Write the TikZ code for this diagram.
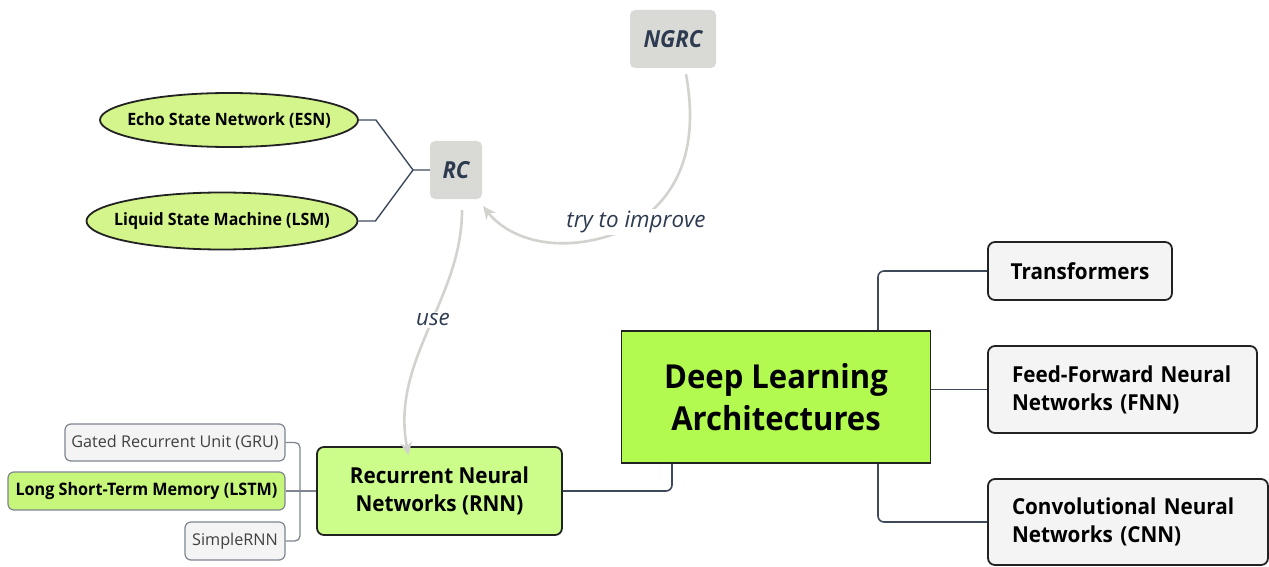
\documentclass[tikz,border=0pt]{standalone}
\usepackage{fontspec}
\setmainfont{Open Sans}[BoldFeatures={FakeStretch=0.94},BoldItalicFeatures={FakeStretch=0.94}]
\usetikzlibrary{arrows.meta,shapes.geometric}
\definecolor{slate}{HTML}{3E4A5C}
\definecolor{textslate}{HTML}{2D3A4F}
\definecolor{graybox}{HTML}{D9D9D5}
\definecolor{relgray}{HTML}{D2D2CE}
\definecolor{lightfill}{HTML}{F4F4F4}
\definecolor{boxline}{HTML}{222222}
\definecolor{dlafill}{HTML}{B3FA50}
\definecolor{rnnfill}{HTML}{CCFC8A}
\definecolor{ellfill}{HTML}{D4F58C}
\definecolor{lstmfill}{HTML}{C6F77A}
\definecolor{childline}{HTML}{7E858F}
\begin{document}
\begin{tikzpicture}[x=1pt,y=-1pt,
  box/.style={rectangle, rounded corners=7pt, draw=boxline, line width=1.8pt, inner sep=0pt, align=center},
  lightbox/.style={box, fill=lightfill, font=\bfseries\fontsize{22}{28}\selectfont},
  gbox/.style={rectangle, rounded corners=5pt, fill=graybox, inner sep=0pt, font=\bfseries\itshape\fontsize{23.5}{27}\selectfont, text=textslate},
  ell/.style={ellipse, draw=boxline, line width=1.8pt, fill=ellfill, inner sep=0pt, font=\bfseries\fontsize{17}{20}\selectfont},
  child/.style={rectangle, rounded corners=6pt, draw=childline, line width=1.2pt, inner sep=0pt, font=\fontsize{16.2}{19}\selectfont},
  conn/.style={draw=slate, line width=1.6pt, rounded corners=6pt},
  thinconn/.style={draw=childline, line width=1.3pt, rounded corners=5pt},
  rel/.style={draw=relgray, line width=2.6pt, -{Stealth[length=13pt,width=12pt]}},
  lab/.style={fill=white, font=\itshape\fontsize{22.4}{26}\selectfont, text=textslate, inner sep=2pt}
]
\useasboundingbox (0,0) rectangle (1269,567);

% reservoir computing part
\node[gbox, minimum width=86, minimum height=58] (ngrc) at (673,39) {NGRC};
\node[gbox, minimum width=52, minimum height=58] (rc) at (456,170) {RC};
\node[ell, minimum width=258, minimum height=54] (esn) at (229,120) {\makebox[0pt]{Echo State Network (ESN)}};
\node[ell, minimum width=271, minimum height=57] (lsm) at (222,221) {\makebox[0pt]{Liquid State Machine (LSM)}};
\coordinate (fork) at (413,170);
\draw[draw=slate, line width=1.4pt] (esn.east) -- ++(17,0) -- (fork) -- (rc.west);
\draw[draw=slate, line width=1.4pt] (lsm.east) -- ++(17,0) -- (fork);

% main nodes
\node[box, fill=dlafill, rounded corners=0pt, minimum width=309, minimum height=132,
      font=\bfseries\fontsize{33}{42}\selectfont] (dla) at (776,397) {Deep Learning\\Architectures};
\node[box, fill=rnnfill, minimum width=245, minimum height=88,
      font=\bfseries\fontsize{22}{28}\selectfont] (rnn) at (439.5,491) {Recurrent Neural\\Networks (RNN)};
\node[lightbox, minimum width=184, minimum height=58] (trans) at (1080,271) {Transformers};
\node[lightbox, minimum height=87, text width=221, inner xsep=24pt, align=left] (fnn) at (1122.5,389.5) {Feed-Forward Neural\\Networks (FNN)};
\node[lightbox, minimum height=86, text width=232, inner xsep=24pt, align=left] (cnn) at (1128,522) {Convolutional Neural\\Networks (CNN)};

% RNN children
\node[child, fill=lightfill, text=black!75, minimum width=220, minimum height=37] (gru) at (175,442.5) {Gated Recurrent Unit (GRU)};
\node[child, fill=lstmfill, font=\bfseries\fontsize{17.2}{20}\selectfont, minimum width=277, minimum height=38] (lstm) at (146.5,491) {Long Short-Term Memory (LSTM)};
\node[child, fill=lightfill, text=black!75, minimum width=100, minimum height=38] (simple) at (235,541) {SimpleRNN};
\coordinate (rj) at (300,491);
\draw[thinconn] (gru.east) -| (rj) |- (simple.east);
\draw[thinconn] (lstm.east) -- (rnn.west);

% DLA connectors
\draw[conn] ([xshift=102pt]dla.north) |- (trans.west);
\draw[conn] (dla.east |- fnn.west) -- (fnn.west);
\draw[conn] ([xshift=102pt]dla.south) |- (cnn.west);
\draw[conn] ([xshift=-104pt]dla.south) |- (rnn.east);

% relations
\draw[rel] ([xshift=13pt,yshift=-6pt]ngrc.south) .. controls (698,140) and (685,200) .. (620,232)
  .. controls (560,255) and (510,240) .. ([xshift=27pt,yshift=-7pt]rc.south);
\node[lab] (l1) at (636,222) {try to improve};
\draw[rel] ([xshift=6pt,yshift=-11pt]rc.south) .. controls (462,300) and (390,360) .. ([xshift=-31pt,yshift=-9pt]rnn.north);
\node[lab] (l2) at (433,320) {use};
\end{tikzpicture}
\end{document}
